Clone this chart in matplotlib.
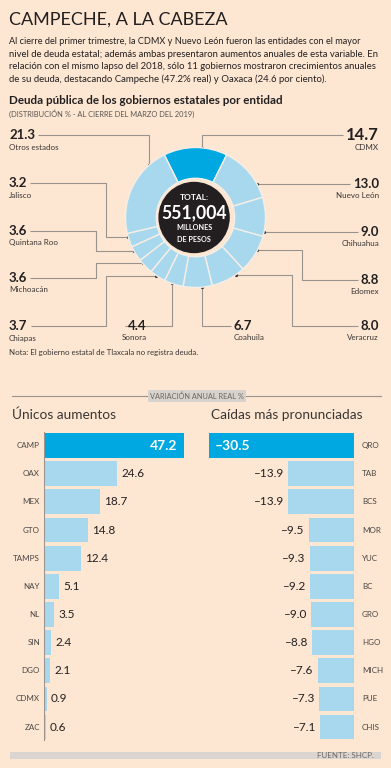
import matplotlib
matplotlib.use('Agg')
import matplotlib.pyplot as plt
import numpy as np

W, H = 391, 768
BG = '#FDE7D3'
LIGHT = '#A8D8EE'
DARK = '#00A8E1'
INK = '#231F20'
LINE = '#9A928C'

plt.rcParams['font.family'] = ['Lato', 'DejaVu Sans']

# ---- data ----
donut_names = ['CDMX', 'Nuevo León', 'Chihuahua', 'Edomex', 'Veracruz', 'Coahuila',
               'Sonora', 'Chiapas', 'Michoacán', 'Quintana Roo', 'Jalisco', 'Otros estados']
donut_shares = [14.7, 13.0, 9.0, 8.8, 8.0, 6.7, 4.4, 3.7, 3.6, 3.6, 3.2, 21.3]
donut_total = '551,004'

up_states = ['CAMP', 'OAX', 'MEX', 'GTO', 'TAMPS', 'NAY', 'NL', 'SIN', 'DGO', 'CDMX', 'ZAC']
up_values = [47.2, 24.6, 18.7, 14.8, 12.4, 5.1, 3.5, 2.4, 2.1, 0.9, 0.6]
down_states = ['QRO', 'TAB', 'BCS', 'MOR', 'YUC', 'BC', 'GRO', 'HGO', 'MICH', 'PUE', 'CHIS']
down_values = [-30.5, -13.9, -13.9, -9.5, -9.3, -9.2, -9.0, -8.8, -7.6, -7.3, -7.1]

title = 'CAMPECHE, A LA CABEZA'
body = ['Al cierre del primer trimestre, la CDMX y Nuevo León fueron las entidades con el mayor',
        'nivel de deuda estatal; además ambas presentaron aumentos anuales de esta variable. En',
        'relación con el mismo lapso del 2018, sólo 11 gobiernos mostraron crecimientos anuales',
        'de su deuda, destacando Campeche (47.2% real) y Oaxaca (24.6 por ciento).']
body_widths = [351, 366, 363, 319]

fig = plt.figure(figsize=(W / 100, H / 100), dpi=100, facecolor=BG)
ov = fig.add_axes([0, 0, 1, 1])
ov.set_xlim(0, W)
ov.set_ylim(H, 0)
ov.axis('off')


def px_axes(x0, y0, x1, y1):
    return fig.add_axes([x0 / W, 1 - y1 / H, (x1 - x0) / W, (y1 - y0) / H])


def fit(t, width):
    # scale font so the text spans the given pixel width
    fig.canvas.draw()
    w = t.get_window_extent().width
    t.set_fontsize(t.get_fontsize() * width / w)


def extent(t):
    fig.canvas.draw()
    bb = t.get_window_extent()
    return bb.x0, bb.x1


# ---- header ----
t = ov.text(9, 19.5, title, fontsize=14, color=INK, va='center', ha='left')
fit(t, 220)
for i, line in enumerate(body):
    t = ov.text(9, 42 + i * 12.4, line, fontsize=6.5, color=INK, va='center')
    fit(t, body_widths[i])
t = ov.text(9, 101, 'Deuda pública de los gobiernos estatales por entidad', fontsize=8.5,
            fontweight='bold', color=INK, va='center')
fit(t, 272)
t = ov.text(9, 114, '(DISTRIBUCIÓN % - AL CIERRE DEL MARZO DEL 2019)', fontsize=5,
            color='#5A5552', va='center')
fit(t, 188)

# ---- donut ----
cx, cy, R = 195.5, 217.5, 70
dax = px_axes(cx - R, cy - R, cx + R, cy + R)
start = 90 + donut_shares[0] / 100 * 360 / 2
colors = [DARK] + [LIGHT] * (len(donut_shares) - 1)
dax.pie(donut_shares, startangle=start, counterclock=False, colors=colors, radius=1,
        wedgeprops=dict(width=0.44, edgecolor='#F6EEE6', linewidth=1.0))
dax.add_patch(plt.Circle((-0.02, 0), 0.5, color='#231F20'))
dax.set_xlim(-1, 1)
dax.set_ylim(-1, 1)
dax.axis('off')
dax.text(-0.02, 0.29, 'TOTAL:', color='white', fontsize=6, fontweight='bold', ha='center', va='center')
t = dax.text(-0.02, 0.07, donut_total, color='white', fontsize=12, fontweight='bold',
             ha='center', va='center')
fit(t, 65)
dax.text(-0.02, -0.14, 'MILLONES', color='white', fontsize=5.2, fontweight='bold', ha='center', va='center')
dax.text(-0.02, -0.31, 'DE PESOS', color='white', fontsize=5.2, fontweight='bold', ha='center', va='center')

# label layout: anchor angle on ring, label x/y, alignment, elbow x (None -> anchor x)
label_layout = {
    'CDMX': (85, 379, 135, 'right', None),
    'Nuevo León': (29, 379, 184, 'right', None),
    'Chihuahua': (-12, 379, 232, 'right', None),
    'Edomex': (-28, 379, 280, 'right', 302),
    'Veracruz': (-54.6, 379, 326, 'right', 292),
    'Coahuila': (-85, 234, 326, 'left', None),
    'Sonora': (-110, 147, 326, 'right', None),
    'Chiapas': (-124, 9, 326, 'left', 106),
    'Michoacán': (-139, 9, 278, 'left', 96),
    'Quintana Roo': (-151, 9, 231, 'left', 96),
    'Jalisco': (-164, 9, 183, 'left', 106),
    'Otros estados': (132, 9, 135, 'left', None),
}
for name, share in zip(donut_names, donut_shares):
    ang, lx, ly, ha, ex = label_layout[name]
    a = np.radians(ang)
    axp = cx + R * np.cos(a)
    ayp = cy - R * np.sin(a)
    fs = 12 if name == 'CDMX' else 9.5
    vt = ov.text(lx, ly, f'{share:.1f}', fontsize=fs, fontweight='bold', color=INK,
                 ha=ha, va='center')
    ov.text(lx, ly + 12, name, fontsize=5.8, color='#3A3533', ha=ha, va='center')
    x0, x1 = extent(vt)
    if ha == 'right' or name == 'Coahuila':
        sx = x0 - 3
    else:
        sx = x1 + 3
    if ex is None:
        ex = axp
    ov.plot([sx, ex, ex, axp], [ly, ly, ayp, ayp], color=LINE, lw=0.8, solid_capstyle='butt')
    ov.plot([axp], [ayp], 'o', ms=1.3, color='#3A3533')

t = ov.text(9, 352, 'Nota: El gobierno estatal de Tlaxcala no registra deuda.', fontsize=5.2,
            color='#3A3533', va='center')
fit(t, 190)

# ---- section header ----
ov.plot([12, 381], [396, 396], color=LINE, lw=0.8)
t = ov.text(197, 396, 'VARIACIÓN ANUAL REAL %', fontsize=5, color='#6E6864', ha='center', va='center',
            bbox=dict(boxstyle='square,pad=0.3', fc='#D8D2CD', ec='none'))
fit(t, 95)
t = ov.text(12, 415, 'Únicos aumentos', fontsize=11, color='#3A3533', va='center')
fit(t, 103)
t = ov.text(211, 415, 'Caídas más pronunciadas', fontsize=11, color='#3A3533', va='center')
fit(t, 150)

# ---- bar charts ----
n = len(up_values)
top, step = 431.5, 28.15
bottom = top + n * step
lax = px_axes(44, top, 44 + 50 * 2.97, bottom)
lax.barh(range(n), up_values, height=0.88, color=[DARK] + [LIGHT] * (n - 1))
lax.set_xlim(0, 50)
lax.set_ylim(n - 0.5, -0.5)
lax.axis('off')
lax.axvline(0, color=LINE, lw=0.8)
for i, (s, v) in enumerate(zip(up_states, up_values)):
    ov.text(40, top + (i + 0.5) * step, s, fontsize=5.8, color='#4A4542', ha='right', va='center')
    if i == 0:
        lax.annotate(f'{v:.1f}', (v, i), xytext=(-5, 0), textcoords='offset points',
                     color='white', fontsize=10, fontweight='bold', ha='right', va='center')
    else:
        lax.annotate(f'{v:.1f}', (v, i), xytext=(3, 0), textcoords='offset points',
                     color=INK, fontsize=8.5, ha='left', va='center')

rax = px_axes(354 - 32 * 4.75, top, 354, bottom)
rax.barh(range(n), down_values, height=0.88, color=[DARK] + [LIGHT] * (n - 1))
rax.set_xlim(-32, 0)
rax.set_ylim(n - 0.5, -0.5)
rax.axis('off')
rax.axvline(0, color=LINE, lw=0.8)
for i, (s, v) in enumerate(zip(down_states, down_values)):
    ov.text(362, top + (i + 0.5) * step, s, fontsize=5.8, color='#4A4542', ha='left', va='center')
    lab = f'{v:.1f}'.replace('-', '–')
    if i == 0:
        rax.annotate(lab, (v, i), xytext=(4, 0), textcoords='offset points',
                     color='white', fontsize=10, fontweight='bold', ha='left', va='center')
    else:
        rax.annotate(lab, (v, i), xytext=(-3, 0), textcoords='offset points',
                     color=INK, fontsize=8.5, ha='right', va='center')

# ---- footer ----
ov.add_patch(plt.Rectangle((10, 752), 371, 7, color='#DAD5D0', lw=0))
t = ov.text(374, 755.5, 'FUENTE: SHCP.', fontsize=5.2, color='#6E6864', ha='right', va='center')
fit(t, 57)

fig.savefig('out.png', dpi=100, facecolor=BG)
